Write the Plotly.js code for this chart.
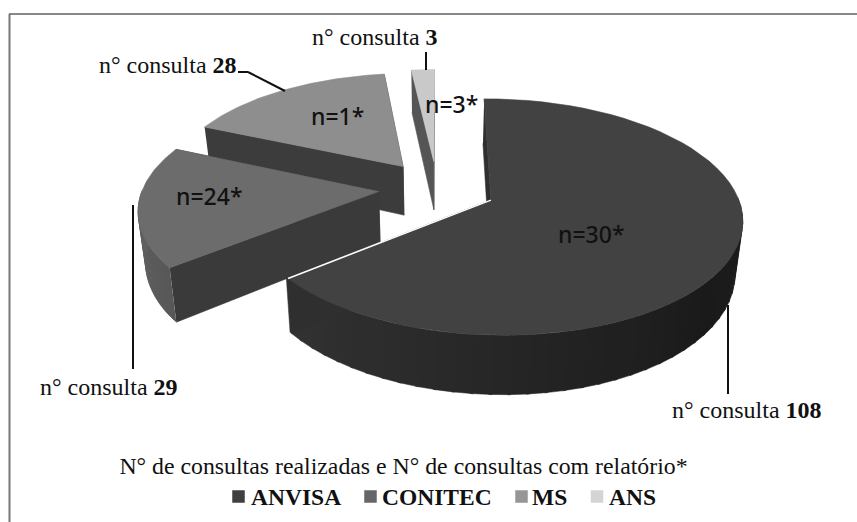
<!DOCTYPE html>
<html><head><meta charset="utf-8">
<script src="https://cdn.plot.ly/plotly-3.0.1.min.js"></script>
<style>html,body{margin:0;padding:0;background:#fff}#c{width:857px;height:522px}</style>
</head><body><div id="c"></div>
<script>
// ---- data ----
const categories = ['ANVISA','CONITEC','MS','ANS'];
const consultas = [108,29,28,3];
const relatorios = [30,24,1,3];
const chartTitle = 'N° de consultas realizadas e N° de consultas com relatório*';

// ---- styling / view ----
const topColors  = ['#424242','#6c6c6c','#8e8e8e','#c9c9c9'];
const legendColors = ['#3f3f3f','#666666','#969696','#d4d4d4'];
const cutColors  = ['#2f2f2f','#3a3a3a','#3c3c3c','#555555'];
const wallFrom   = ['#333333','#6e6e6e','#777777','#999999'];
const wallMid    = ['#1a1a1a','#626262','#666666','#999999'];
const wallTo     = ['#242424','#585858','#555555','#999999'];
const view = {cx:437, cy:188, a:240, b:112, k:0.141, m:-0.012, h:50, explode:0.245, taper:0.975};

function project(wx, wy, z){
  const D = 1 + view.k*wy + view.m*wx;
  const dx = view.a*wx/D;
  return [view.cx + dx*(z ? view.taper : 1), view.cy - view.b*wy/D + (z ? view.h/D : 0)];
}
function hex(c){return [1,3,5].map(i=>parseInt(c.substr(i,2),16));}
function mix(c1,c2,t){const a=hex(c1),b=hex(c2);return 'rgb('+a.map((v,i)=>Math.round(v+(b[i]-v)*t)).join(',')+')';}

const total = consultas.reduce((s,v)=>s+v,0);
let acc = 0;
const slices = consultas.map((v,i)=>{
  const t0 = acc/total*2*Math.PI; acc += v; const t1 = acc/total*2*Math.PI;
  const mid=(t0+t1)/2;
  return {i,t0,t1,ex:view.explode*Math.sin(mid),ey:view.explode*Math.cos(mid)};
});
function arcPt(s,t,z){return project(s.ex+Math.sin(t), s.ey+Math.cos(t), z);}
function apex(s,z){return project(s.ex,s.ey,z);}

const traces = [];
function poly(pts,color,w){
  traces.push({type:'scatter',mode:'lines',x:pts.map(p=>p[0]),y:pts.map(p=>p[1]),fill:'toself',
    fillcolor:color,line:{color:color,width:w===undefined?0.6:w},hoverinfo:'skip',showlegend:false});
}
function drawSlice(s){
  const N = 60, i = s.i;
  const a0=arcPt(s,s.t0,0), a1=arcPt(s,s.t1,0), c0=apex(s,0);
  poly([a0,c0,apex(s,1),arcPt(s,s.t0,1)],cutColors[i]);
  // outer curved wall: only the part facing the viewer
  for(let n=0;n<N;n++){
    const t=s.t0+(s.t1-s.t0)*n/N, u=s.t0+(s.t1-s.t0)*(n+1)/N;
    if(Math.cos((t+u)/2)>=0) continue;
    const f=n/N;
    const col = f<0.55 ? mix(wallTo[i],wallMid[i],f/0.55) : mix(wallMid[i],wallFrom[i],(f-0.55)/0.45);
    poly([arcPt(s,t,0),arcPt(s,u+0.012,0),arcPt(s,u+0.012,1),arcPt(s,t,1)],col,0.5);
  }
  poly([a1,c0,apex(s,1),arcPt(s,s.t1,1)],cutColors[i]);
  const pts=[c0];
  for(let n=0;n<=N;n++) pts.push(arcPt(s,s.t0+(s.t1-s.t0)*n/N,0));
  pts.push(c0);
  poly(pts,topColors[i]);
}
[3,2,1,0].forEach(i=>drawSlice(slices[i]));
(function(){
  const s=slices[0],p=apex(s,0),q=arcPt(s,s.t1,0);
  traces.push({type:'scatter',mode:'lines',x:[p[0],q[0]],y:[p[1],q[1]],line:{color:'#ffffff',width:1.5},hoverinfo:'skip',showlegend:false});
})();

// legend, laid out to sit tight against the squares
const legendSquareX=[238.5,370.5,521.5,597], legendTextX=[251,382,532,609], legendY=497;
traces.push({type:'scatter',mode:'markers',x:legendSquareX,y:legendSquareX.map(()=>legendY-0.5),
  marker:{symbol:'square',size:12.5,color:legendColors,line:{width:0}},hoverinfo:'skip',showlegend:false});

const serif='"Liberation Serif","Times New Roman",serif';
const sans='"Noto Sans","Open Sans",sans-serif';
const nPos=[[591,234],[209,196],[337,116],[451,104]];
const lblPos=[[747,410],[109,387],[168,65],[375,37]];
const annotations=[];
categories.forEach((c,i)=>{
  annotations.push({x:nPos[i][0],y:nPos[i][1],xref:'x',yref:'y',showarrow:false,text:'n='+relatorios[i]+'*',
    font:{family:sans,size:23,color:'#111111',weight:500}});
  annotations.push({x:lblPos[i][0],y:lblPos[i][1],xref:'x',yref:'y',showarrow:false,
    text:'n° consulta <b>'+consultas[i]+'</b>',font:{family:serif,size:24,color:'#111111'}});
  annotations.push({x:legendTextX[i],y:legendY,xref:'x',yref:'y',xanchor:'left',showarrow:false,
    xshift:-2,text:'<b>'+c+'</b>',font:{family:serif,size:23.5,color:'#111111'}});
});
const L=(x0,y0,x1,y1,c,w)=>({type:'line',xref:'x',yref:'y',x0,y0,x1,y1,line:{color:c||'#111111',width:w||2}});
const shapes=[
  L(9,14,857,14,'#888888',2),L(9.5,14,9.5,522,'#777777',2),
  L(728,305,728,394),L(133,205,133,369),
  L(238,72,248,72),L(248,72,285,91),L(426,52,426,70)
];
Plotly.newPlot('c',traces,{
  width:857,height:522,margin:{l:0,r:0,t:0,b:0},paper_bgcolor:'#fff',plot_bgcolor:'#fff',showlegend:false,
  xaxis:{range:[0,857],visible:false,fixedrange:true},
  yaxis:{range:[522,0],visible:false,fixedrange:true},
  title:{text:chartTitle,x:403.5/857,xanchor:'center',y:1-466/522,yanchor:'middle',font:{family:serif,size:23.8,color:'#111111'}},
  annotations,shapes
},{displayModeBar:false,staticPlot:true});
</script></body></html>
